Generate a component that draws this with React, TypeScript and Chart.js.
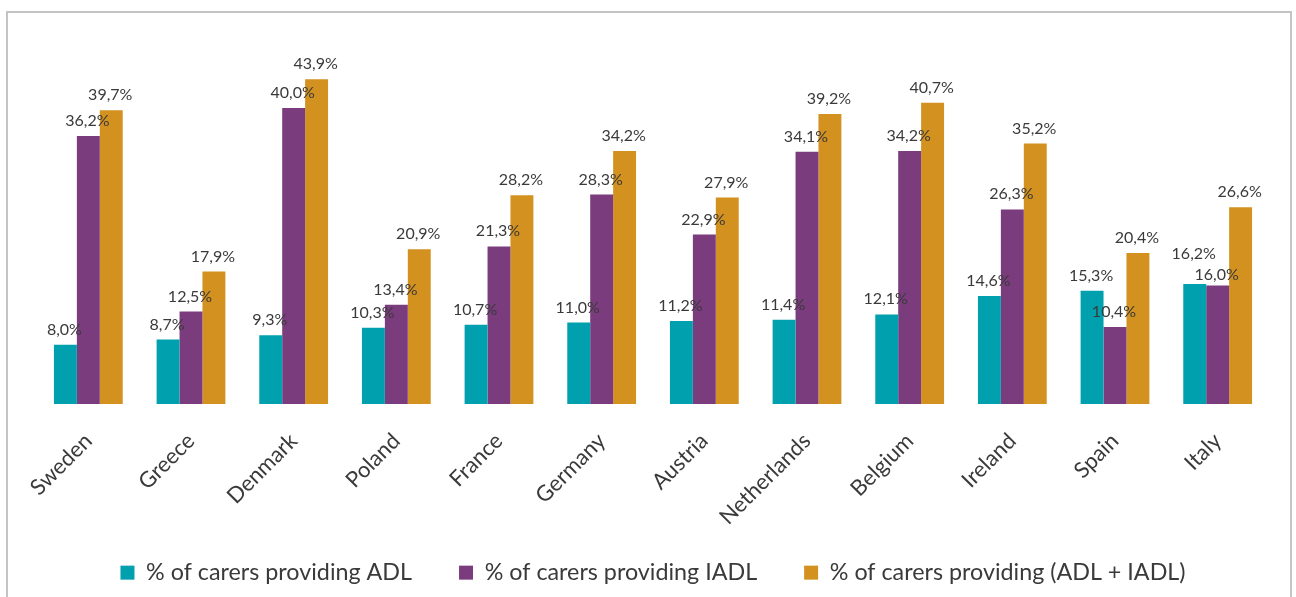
import React, { useEffect, useRef } from "react";
import { Chart, registerables } from "chart.js";

Chart.register(...registerables);

const countries = ["Sweden", "Greece", "Denmark", "Poland", "France", "Germany", "Austria", "Netherlands", "Belgium", "Ireland", "Spain", "Italy"];
const adl = [8.0, 8.7, 9.3, 10.3, 10.7, 11.0, 11.2, 11.4, 12.1, 14.6, 15.3, 16.2];
const iadl = [36.2, 12.5, 40.0, 13.4, 21.3, 28.3, 22.9, 34.1, 34.2, 26.3, 10.4, 16.0];
const both = [39.7, 17.9, 43.9, 20.9, 28.2, 34.2, 27.9, 39.2, 40.7, 35.2, 20.4, 26.6];
const seriesNames = [
  "% of carers providing ADL",
  "% of carers providing IADL",
  "% of carers providing (ADL + IADL)",
];
const colors = ["#00a0ae", "#7a3c7d", "#d3911f"];

const FONT = "Lato, sans-serif";
const TEXT = "#3a3a3a";

const valueLabels = {
  id: "valueLabels",
  afterDatasetsDraw(chart: any) {
    const ctx = chart.ctx;
    ctx.save();
    ctx.font = `16px ${FONT}`;
    ctx.fillStyle = TEXT;
    ctx.textAlign = "center";
    ctx.textBaseline = "alphabetic";
    const n = chart.data.labels.length;
    for (let j = 0; j < n; j++) {
      const bars = chart.data.datasets.map((_: any, i: number) => chart.getDatasetMeta(i).data[j]);
      const ys = bars.map((b: any) => b.y - 10);
      // avoid collisions between neighbouring labels of nearly equal height
      if (Math.abs(ys[0] - ys[1]) < 14) {
        ys[0] -= 15;
        ys[1] += 4;
      }
      chart.data.datasets.forEach((ds: any, i: number) => {
        const v = ds.data[j] as number;
        ctx.fillText(v.toFixed(1).replace(".", ",") + "%", bars[i].x - 1, ys[i]);
      });
    }
    ctx.restore();
  },
};

const legendTrim = {
  id: "legendTrim",
  beforeInit(chart: any) {
    const lg = chart.legend;
    if (!lg) return;
    const orig = lg.fit;
    lg.fit = function () {
      orig.call(this);
      this.height = 83;
    };
  },
};

export default function App() {
  const ref = useRef<HTMLCanvasElement>(null);
  useEffect(() => {
    if (!ref.current) return;
    const data = [adl, iadl, both];
    const chart = new Chart(ref.current, {
      type: "bar",
      data: {
        labels: countries,
        datasets: data.map((d, i) => ({
          label: seriesNames[i],
          data: d,
          backgroundColor: colors[i],
          categoryPercentage: 0.67,
          barPercentage: 1.0,
        })),
      },
      options: {
        animation: false,
        responsive: false,
        maintainAspectRatio: false,
        layout: { padding: { top: 34, left: 37, right: 27, bottom: 0 } },
        scales: {
          y: { display: false, min: 0, max: 50 },
          x: {
            grid: { display: false, drawTicks: false },
            border: { display: false },
            afterFit(scale: any) {
              scale.height = 110;
              scale._computeLabelArea = () => undefined;
            },
            ticks: {
              minRotation: 45,
              maxRotation: 45,
              padding: 24,
              color: TEXT,
              font: { family: FONT, size: 22 },
            },
          },
        },
        plugins: {
          tooltip: { enabled: false },
          legend: {
            position: "bottom",
            labels: {
              boxWidth: 14,
              boxHeight: 14,
              padding: 47,
              color: TEXT,
              font: { family: FONT, size: 23.3 },
            },
          },
        },
      },
      plugins: [valueLabels, legendTrim],
    });
    return () => chart.destroy();
  }, []);
  return (
    <div style={{ position: "fixed", left: 0, top: 0, width: 1296, height: 597, background: "#fff", overflow: "hidden" }}>
      <div style={{ position: "absolute", left: 6, top: 11, width: 1282, height: 620, border: "2px solid #c4c4c4" }} />
      <canvas ref={ref} width={1296} height={597} style={{ position: "absolute", left: 0, top: 0 }} />
    </div>
  );
}
